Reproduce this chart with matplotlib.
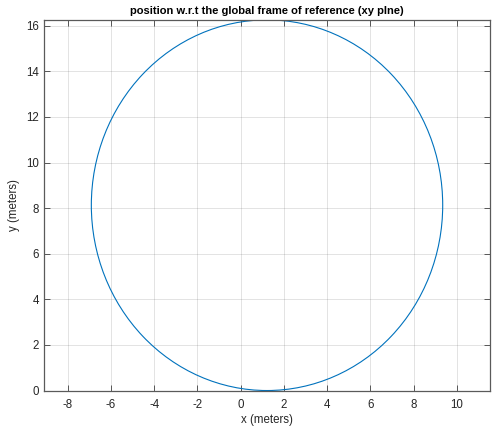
import matplotlib.pyplot as plt
from matplotlib.patches import Circle

# Trajectory in the xy plane: a circle given by its centre and radius (m)
center_x = 1.22
center_y = 8.13
radius = 8.13

x_ticks = [-8, -6, -4, -2, 0, 2, 4, 6, 8, 10]
y_ticks = [0, 2, 4, 6, 8, 10, 12, 14, 16]
x_limits = [-9.11, 11.54]
y_limits = [0, 16.26]

plt.rcParams["font.family"] = ["Liberation Sans", "DejaVu Sans"]
plt.rcParams["axes.unicode_minus"] = False

fig = plt.figure(figsize=(4.92, 4.32), dpi=100)
ax = fig.add_axes([0.089, 0.096, 0.907, 0.858])

path = Circle((center_x, center_y), radius, fill=False,
              edgecolor="#0072BD", linewidth=0.8)
ax.add_patch(path)

ax.set_xlim(x_limits)
ax.set_ylim(y_limits)
ax.set_xticks(x_ticks)
ax.set_yticks(y_ticks)

ax.grid(True, color="#262626", alpha=0.15, linewidth=0.6)
ax.set_axisbelow(True)
ax.tick_params(direction="in", length=4, width=0.6, colors="#404040",
               labelsize=8.3, top=True, right=True, labelcolor="#262626")
ax.tick_params(axis="x", pad=6)
for spine in ax.spines.values():
    spine.set_color("#5a5a5a")
    spine.set_linewidth(0.9)

ax.set_xlabel("x (meters)", fontsize=8.3, color="#262626", labelpad=2)
ax.set_ylabel("y (meters)", fontsize=8.3, color="#262626", labelpad=4)
ax.set_title("position w.r.t the global frame of reference (xy plne)",
             fontsize=8, fontweight="bold", pad=4)

fig.savefig("out.png", dpi=100)
